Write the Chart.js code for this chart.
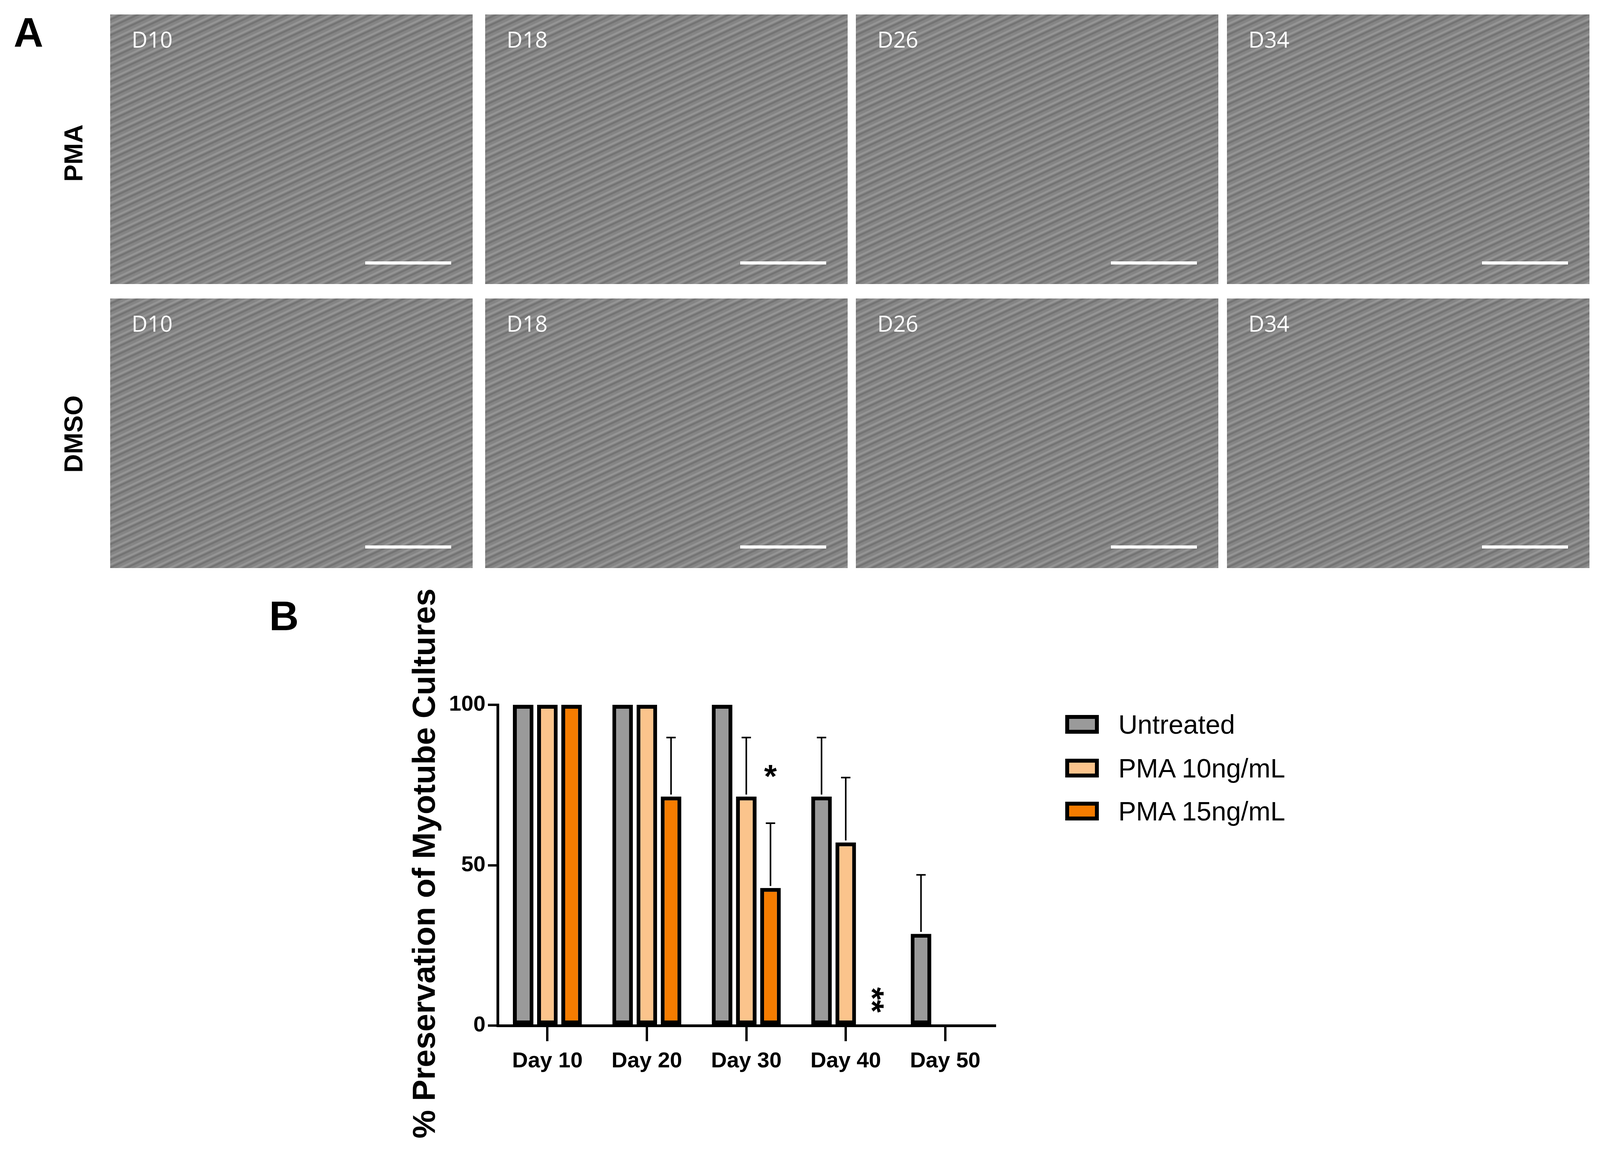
<!DOCTYPE html>
<html><head><meta charset="utf-8">
<script src="https://cdn.jsdelivr.net/npm/chart.js@4"></script>
<style>
body{margin:0;width:4185px;height:2987px;background:#fff;position:relative;font-family:"Liberation Sans",Arial,sans-serif;overflow:hidden}
.img{position:absolute;background:repeating-linear-gradient(155deg,#7d7d7d 0px,#9a9a9a 6px,#6e6e6e 12px,#8c8c8c 18px);}
.img span{position:absolute;left:55px;top:25px;color:#fff;font-size:56px;font-family:"Open Sans",sans-serif}
.img i{position:absolute;right:55px;bottom:50px;width:220px;height:8px;background:#fff}
.lab{position:absolute;font-weight:bold;font-size:105px;transform:translate(-50%,-50%)}
.row{position:absolute;font-weight:bold;font-size:66px;transform:translate(-50%,-50%) rotate(-90deg);white-space:nowrap}
.leg{position:absolute;left:2727px;font-size:68px;display:flex;align-items:center;transform:translateY(-50%)}
.leg b{display:inline-block;width:66px;height:28px;border:10px solid #000;margin-right:50px}
</style></head><body>
<div class="lab" style="left:73px;top:84px">A</div>
<div class="lab" style="left:727px;top:1577px">B</div>
<div class="row" style="left:188px;top:392px">PMA</div>
<div class="row" style="left:188px;top:1111px">DMSO</div>
<div class="row" style="left:1085px;top:2210px;font-size:82px">% Preservation of Myotube Cultures</div>
<div id="imgs"></div>
<div class="leg" style="top:1854px"><b style="background:#9a9a9a"></b>Untreated</div>
<div class="leg" style="top:1966px"><b style="background:#fbc48c"></b>PMA 10ng/mL</div>
<div class="leg" style="top:2076px"><b style="background:#f57c00"></b>PMA 15ng/mL</div>
<canvas id="c" style="position:absolute;left:1010px;top:1500px;width:1600px;height:1487px"></canvas>
<script>
const categories=["Day 10","Day 20","Day 30","Day 40","Day 50"];
const untreated=[100,100,100,71.4,28.6];
const pma10=[100,100,71.4,57.1,0];
const pma15=[100,71.4,42.9,0,0];
const errUntreated=[0,0,0,18.4,18.4];
const err10=[0,0,18.4,20.2,0];
const err15=[0,18.4,20.2,0,0];
const yTicks=[0,50,100];
const dayLabels=["D10","D18","D26","D34"];

const xs=[282,1242,2191,3141], ys=[37,764];
const box=document.getElementById('imgs');
ys.forEach(y=>xs.forEach((x,i)=>{const d=document.createElement('div');d.className='img';
d.style.cssText=`left:${x}px;top:${y}px;width:928px;height:690px`;d.innerHTML=`<span>${dayLabels[i]}</span><i></i>`;box.appendChild(d);}));

const errs=[errUntreated,err10,err15];
const stars=[{ds:2,i:2,t:"*",v:77,rot:false},{ds:2,i:3,t:"**",v:8,rot:true}];
const plug={id:'extra',afterDatasetsDraw(ch){
 const c=ch.ctx;c.save();c.strokeStyle='#000';c.lineWidth=4;
 ch.data.datasets.forEach((ds,k)=>{const m=ch.getDatasetMeta(k);
  ds.data.forEach((v,i)=>{const e=errs[k][i];if(!e)return;const b=m.data[i];
   const y0=ch.scales.y.getPixelForValue(v),y1=ch.scales.y.getPixelForValue(v+e);
   c.beginPath();c.moveTo(b.x,y0-5);c.lineTo(b.x,y1);c.moveTo(b.x-12,y1);c.lineTo(b.x+12,y1);c.stroke();});});
 c.fillStyle='#000';c.font='bold 84px "Liberation Sans"';c.textAlign='center';c.textBaseline='middle';
 stars.forEach(s=>{const b=ch.getDatasetMeta(s.ds).data[s.i];const y=ch.scales.y.getPixelForValue(s.v);
  c.save();c.translate(b.x,y);if(s.rot)c.rotate(Math.PI/2);c.fillText(s.t,0,0);c.restore();});
 c.restore();}};
const mk=(l,d,col)=>({label:l,data:d,backgroundColor:col,borderColor:'#000',borderWidth:10,borderSkipped:false,categoryPercentage:0.73,barPercentage:0.85});
new Chart(document.getElementById('c'),{type:'bar',
 data:{labels:categories,datasets:[mk('Untreated',untreated,'#9a9a9a'),mk('PMA 10ng/mL',pma10,'#fbc48c'),mk('PMA 15ng/mL',pma15,'#f57c00')]},
 options:{responsive:false,animation:false,devicePixelRatio:1,
  layout:{padding:{top:304,right:63}},
  plugins:{legend:{display:false},tooltip:{enabled:false}},
  scales:{
   x:{grid:{display:true,drawOnChartArea:false,color:'#000',lineWidth:6,tickLength:40,offset:false},border:{color:'#000',width:7},
      ticks:{color:'#000',font:{size:56,weight:'bold',family:'Liberation Sans'},padding:18},afterFit(s){s.height=362;}},
   y:{min:0,max:100,afterBuildTicks(s){s.ticks=yTicks.map(v=>({value:v}));},grid:{display:true,drawOnChartArea:false,color:'#000',lineWidth:6,tickLength:25},
      border:{color:'#000',width:7},ticks:{color:'#000',font:{size:56,weight:'bold',family:'Liberation Sans'},padding:6},afterFit(s){s.width=264;}}
  }},plugins:[plug]});
</script></body></html>
